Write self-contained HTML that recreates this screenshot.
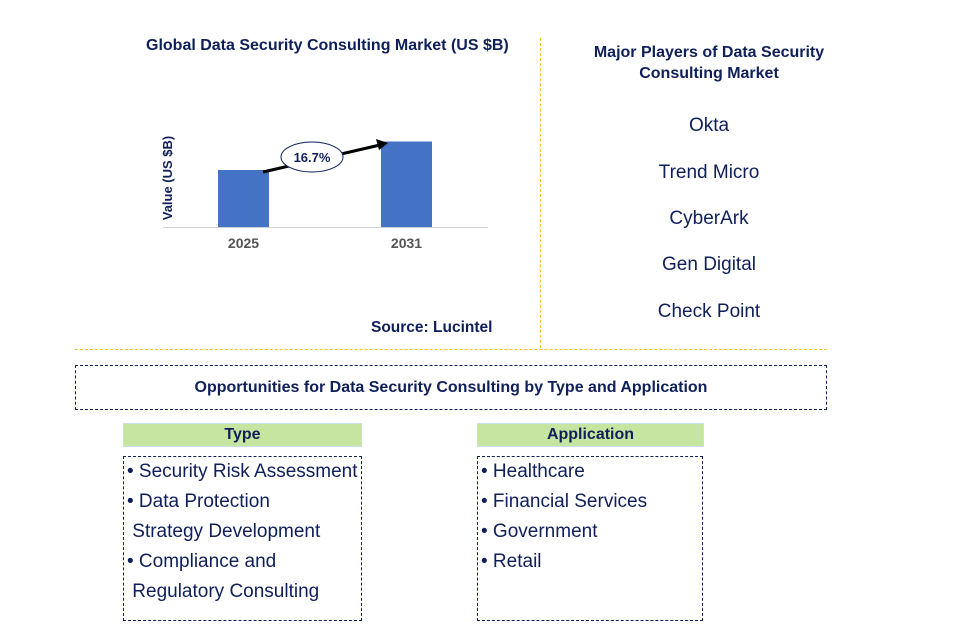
<!DOCTYPE html>
<html><head><meta charset="utf-8"><style>
body{margin:0;width:955px;height:642px;background:#fff;font-family:"Liberation Sans",sans-serif;position:relative;overflow:hidden;color:#0f1f5a}
.a{position:absolute}
.b{font-weight:bold}
.pl{position:absolute;left:540px;width:338px;text-align:center;font-size:19px;color:#0f1f5a}
.li{font-size:19px;line-height:30px;color:#0f1f5a;white-space:nowrap}
</style></head><body>
<div class="a b" style="left:146px;top:37px;font-size:16px">Global Data Security Consulting Market (US $B)</div>
<svg class="a" style="left:0;top:0" width="540" height="340">
<line x1="163" y1="227.5" x2="488" y2="227.5" stroke="#d0d0d0"/>
<text transform="translate(172,178) rotate(-90)" text-anchor="middle" font-size="13" font-weight="bold" fill="#0f1f5a">Value (US $B)</text>
<g id="bars"></g>
<line x1="263" y1="172" x2="380" y2="145" stroke="#000" stroke-width="3"/>
<polygon points="388,143 376,139 379,150" fill="#000"/>
<ellipse cx="312" cy="157" rx="31" ry="15" fill="#fff" stroke="#0f1f5a"/>
<text x="312" y="162" text-anchor="middle" font-size="13" font-weight="bold" fill="#0f1f5a">16.7%</text>
</svg>
<div class="a b" style="left:371px;top:319px;font-size:15.5px">Source: Lucintel</div>
<div class="a" style="left:540px;top:38px;height:310px;border-left:1px dashed #f2c233"></div>
<div class="a" style="left:75px;top:349px;width:752px;border-top:1px dashed #f5c518"></div>
<div class="pl b" style="top:42px;font-size:16px;line-height:21px">Major Players of Data Security<br>Consulting Market</div>
<div class="pl" style="top:115px">Okta</div>
<div class="pl" style="top:162px">Trend Micro</div>
<div class="pl" style="top:208px">CyberArk</div>
<div class="pl" style="top:254px">Gen Digital</div>
<div class="pl" style="top:301px">Check Point</div>
<div class="a b" style="left:75px;top:365px;width:750px;height:43px;border:1px dashed #0f1f5a;text-align:center;line-height:43px;font-size:16px">Opportunities for Data Security Consulting by Type and Application</div>
<div class="a b" style="left:123px;top:423px;width:237px;height:22px;background:#c6e5a0;border:1px solid #c9ddf0;text-align:center;line-height:22px;font-size:16px">Type</div>
<div class="a b" style="left:477px;top:423px;width:225px;height:22px;background:#c6e5a0;border:1px solid #c9ddf0;text-align:center;line-height:22px;font-size:16px">Application</div>
<div class="a li" style="left:123px;top:456px;width:239px;height:165px;border:1px dashed #0f1f5a;padding-left:3px;box-sizing:border-box">
<div>• Security Risk Assessment</div><div>• Data Protection</div><div>&nbsp;Strategy Development</div><div>• Compliance and</div><div>&nbsp;Regulatory Consulting</div></div>
<div class="a li" style="left:477px;top:456px;width:226px;height:165px;border:1px dashed #0f1f5a;padding-left:3px;box-sizing:border-box">
<div>• Healthcare</div><div>• Financial Services</div><div>• Government</div><div>• Retail</div></div>
<script>
const categories=["2025","2031"];
const values=[2.0,3.0];
const xCenters={"2025":243.5,"2031":406.5};
const base=227,pxPerUnit=28.5;
const y=v=>base-v*pxPerUnit;
const g=document.getElementById('bars');
const ns="http://www.w3.org/2000/svg";
categories.forEach((c,i)=>{
 const r=document.createElementNS(ns,'rect');
 r.setAttribute('x',xCenters[c]-25.5);r.setAttribute('width',51);
 r.setAttribute('y',y(values[i]));r.setAttribute('height',base-y(values[i]));
 r.setAttribute('fill','#4472c4');
 
 
 g.appendChild(r);
 const t=document.createElementNS(ns,'text');
 t.setAttribute('x',xCenters[c]);t.setAttribute('y',248);
 t.setAttribute('text-anchor','middle');t.setAttribute('font-size','14');t.setAttribute('font-weight','bold');t.setAttribute('fill','#555');
 t.textContent=c;
 
 
 g.appendChild(t);
});
</script>
</body></html>
